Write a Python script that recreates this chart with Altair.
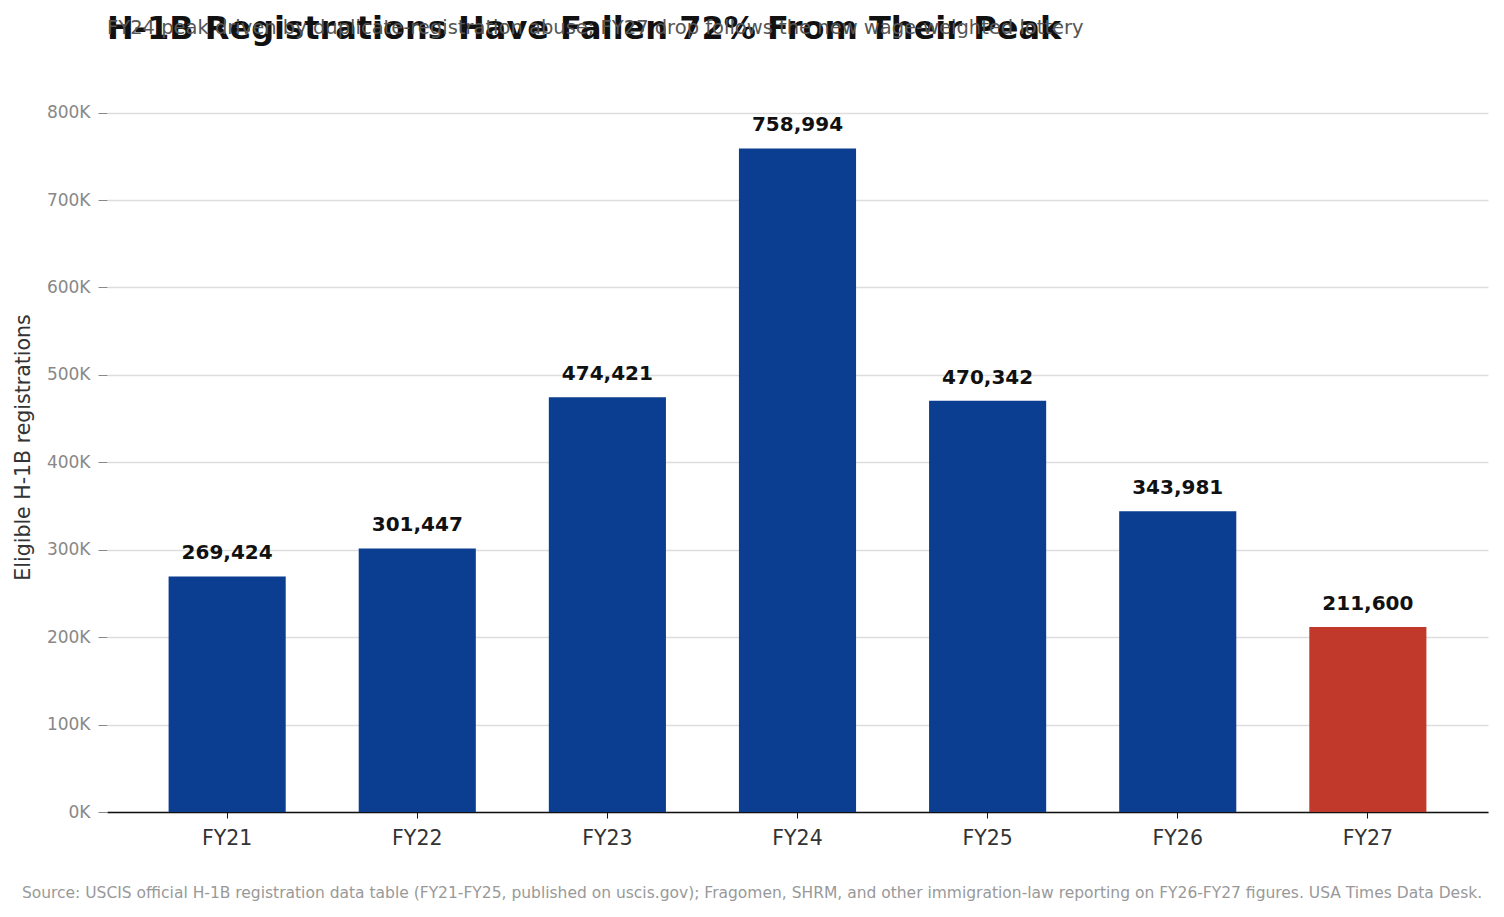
import altair as alt
import pandas as pd

years = ["FY21", "FY22", "FY23", "FY24", "FY25", "FY26", "FY27"]
registrations = [269424, 301447, 474421, 758994, 470342, 343981, 211600]
highlight = ["base", "base", "base", "base", "base", "base", "latest"]
y_ticks = [0, 100000, 200000, 300000, 400000, 500000, 600000, 700000, 800000]

title_text = "H-1B Registrations Have Fallen 72% From Their Peak"
subtitle_text = "FY24 peak driven by duplicate-registration abuse; FY27 drop follows the new wage-weighted lottery"
source_text = ("Source: USCIS official H-1B registration data table (FY21-FY25, published on uscis.gov); "
               "Fragomen, SHRM, and other immigration-law reporting on FY26-FY27 figures. USA Times Data Desk.")

df = pd.DataFrame({"year": years, "value": registrations, "group": highlight})

W, H = 1381, 730
FONT = "DejaVu Sans"

x = alt.X("year:N", sort=years, title=None,
          scale=alt.Scale(paddingInner=0.384, paddingOuter=0.324),
          axis=alt.Axis(labelAngle=0, labelFontSize=20.5, labelColor="#333333", labelFont=FONT,
                        domainColor="#111111", domainWidth=1.5, tickColor="#111111",
                        tickSize=6, labelPadding=10, grid=False))
y = alt.Y("value:Q", title="Eligible H-1B registrations",
          scale=alt.Scale(domain=[0, 835000], nice=False, zero=True),
          axis=alt.Axis(values=y_ticks, labelExpr="datum.value / 1000 + 'K'",
                        labelFontSize=17, labelColor="#888888", labelFont=FONT,
                        titleFontSize=20.5, titleColor="#333333", titleFont=FONT, titleFontWeight="normal",
                        domain=False, tickColor="#888888", tickSize=9, labelPadding=8,
                        titlePadding=13, gridColor="#dddddd", gridWidth=1.3))

bars = alt.Chart(df).mark_bar().encode(
    x=x, y=y,
    color=alt.Color("group:N", scale=alt.Scale(domain=["base", "latest"], range=["#0B3D91", "#C0392B"]),
                    legend=None),
)

labels = alt.Chart(df).mark_text(dy=-13, baseline="bottom", fontSize=20, fontWeight="bold",
                                  font=FONT, color="#111111").encode(
    x=alt.X("year:N", sort=years),
    y="value:Q",
    text=alt.Text("value:Q", format=","),
)

source = alt.Chart(pd.DataFrame({"t": [source_text]})).mark_text(
    fontSize=15.5, font=FONT, color="#999999", align="center", baseline="middle"
).encode(x=alt.value(645), y=alt.value(H + 81), text="t:N")

chart = alt.layer(bars, labels, source).properties(
    width=W, height=H,
    title=alt.TitleParams(title_text, subtitle=subtitle_text, anchor="start", frame="group",
                          font=FONT, fontSize=32, fontWeight="bold", color="#111111",
                          subtitleFont=FONT, subtitleFontSize=19.5, subtitleColor="#555555",
                          subtitlePadding=-27, offset=36),
).configure_view(strokeWidth=0, stroke=None)

chart.save("out.html", embed_options={"renderer": "svg", "actions": False})
